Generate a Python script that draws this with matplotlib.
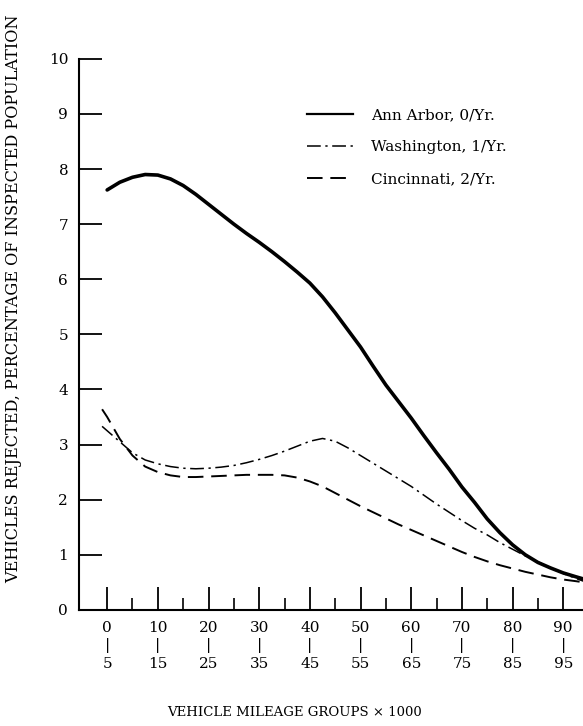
"""
Vehicles rejected vs. mileage group (reproduction of scanned chart)
"""

import matplotlib
matplotlib.use("Agg")
import matplotlib.pyplot as plt
from matplotlib.lines import Line2D

plt.rcParams['font.family'] = ['DejaVu Serif']

# --- data ---
ann_x = [0, 2.5, 5, 7.5, 10, 12.5, 15, 17.5, 20, 22.5, 25, 27.5, 30, 32.5, 35,
         37.5, 40, 42.5, 45, 47.5, 50, 52.5, 55, 57.5, 60, 62.5, 65, 67.5, 70,
         72.5, 75, 77.5, 80, 82.5, 85, 87.5, 90, 92.5, 94]
ann_y = [7.62, 7.76, 7.85, 7.90, 7.89, 7.82, 7.70, 7.54, 7.36, 7.18, 7.00, 6.83,
         6.67, 6.50, 6.32, 6.13, 5.93, 5.68, 5.39, 5.08, 4.77, 4.42, 4.08, 3.78,
         3.48, 3.16, 2.85, 2.55, 2.23, 1.95, 1.65, 1.40, 1.18, 1.00, 0.86, 0.76,
         0.67, 0.60, 0.56]

was_x = [-1, 0, 2.5, 5, 7.5, 10, 12.5, 15, 17.5, 20, 22.5, 25, 27.5, 30, 32.5,
         35, 37.5, 40, 42.5, 45, 47.5, 50, 52.5, 55, 57.5, 60, 62.5, 65, 67.5,
         70, 72.5, 75, 77.5, 80, 82.5, 85, 87.5, 90, 92.5, 94]
was_y = [3.33, 3.25, 3.05, 2.85, 2.72, 2.65, 2.60, 2.57, 2.56, 2.57, 2.59, 2.62,
         2.67, 2.73, 2.80, 2.88, 2.97, 3.06, 3.11, 3.06, 2.94, 2.80, 2.66, 2.52,
         2.38, 2.24, 2.08, 1.92, 1.77, 1.62, 1.48, 1.36, 1.22, 1.10, 0.98, 0.87,
         0.76, 0.66, 0.57, 0.52]

cin_x = was_x
cin_y = [3.64, 3.50, 3.10, 2.80, 2.60, 2.50, 2.44, 2.41, 2.41, 2.42, 2.43, 2.44,
         2.45, 2.45, 2.45, 2.44, 2.40, 2.33, 2.24, 2.12, 2.00, 1.88, 1.77, 1.66,
         1.55, 1.45, 1.35, 1.25, 1.15, 1.05, 0.96, 0.88, 0.81, 0.75, 0.69, 0.64,
         0.59, 0.55, 0.52, 0.50]

major_x = [0, 10, 20, 30, 40, 50, 60, 70, 80, 90]
major_labels = ["0\n|\n5", "10\n|\n15", "20\n|\n25", "30\n|\n35", "40\n|\n45",
                "50\n|\n55", "60\n|\n65", "70\n|\n75", "80\n|\n85", "90\n|\n95"]
minor_x = [5, 15, 25, 35, 45, 55, 65, 75, 85]
y_ticks = [0, 1, 2, 3, 4, 5, 6, 7, 8, 9, 10]

labels = ["Ann Arbor, 0/Yr.", "Washington, 1/Yr.", "Cincinnati, 2/Yr."]

fig = plt.figure(figsize=(5.83, 7.26), dpi=100)
ax = fig.add_axes([0.136, 0.160, 0.864, 0.759])

dashdot = (0, (9, 3, 1.5, 3))
dashed = (0, (8, 4))

ax.plot(ann_x, ann_y, color='black', lw=2.6, solid_capstyle='round')
ax.plot(was_x, was_y, color='black', lw=1.1, linestyle=dashdot)
ax.plot(cin_x, cin_y, color='black', lw=1.4, linestyle=dashed)

ax.set_xlim(-5.5, 93.9)
ax.set_ylim(0, 10)

for s in ['top', 'right']:
    ax.spines[s].set_visible(False)
for s in ['left', 'bottom']:
    ax.spines[s].set_linewidth(1.5)

ax.set_yticks(y_ticks)
ax.tick_params(axis='y', direction='in', length=16.5, width=1.3, pad=8,
               labelsize=11)
ax.set_xticks(major_x)
ax.set_xticklabels(major_labels, linespacing=1.3)
ax.set_xticks(minor_x, minor=True)
ax.tick_params(axis='x', which='major', direction='in', length=16.5,
               width=1.3, pad=8, labelsize=11)
ax.tick_params(axis='x', which='minor', direction='in', length=8.5,
               width=1.2)

fig.text(0.024, 0.588, "VEHICLES REJECTED, PERCENTAGE OF INSPECTED POPULATION",
         rotation=90, ha='center', va='center', fontsize=11.6)
fig.text(0.505, 0.018, "VEHICLE MILEAGE GROUPS \u00d7 1000",
         ha='center', va='center', fontsize=9.5)

handles = [Line2D([], [], color='black', lw=1.6),
           Line2D([], [], color='black', lw=1.1, linestyle=dashdot),
           Line2D([], [], color='black', lw=1.4, linestyle=dashed)]
fig.legend(handles, labels, loc='upper left', bbox_to_anchor=(0.503, 0.87),
           frameon=False, fontsize=11, handlelength=3.0, handletextpad=1.2,
           labelspacing=1.2)

plt.savefig("out.png", dpi=100)
